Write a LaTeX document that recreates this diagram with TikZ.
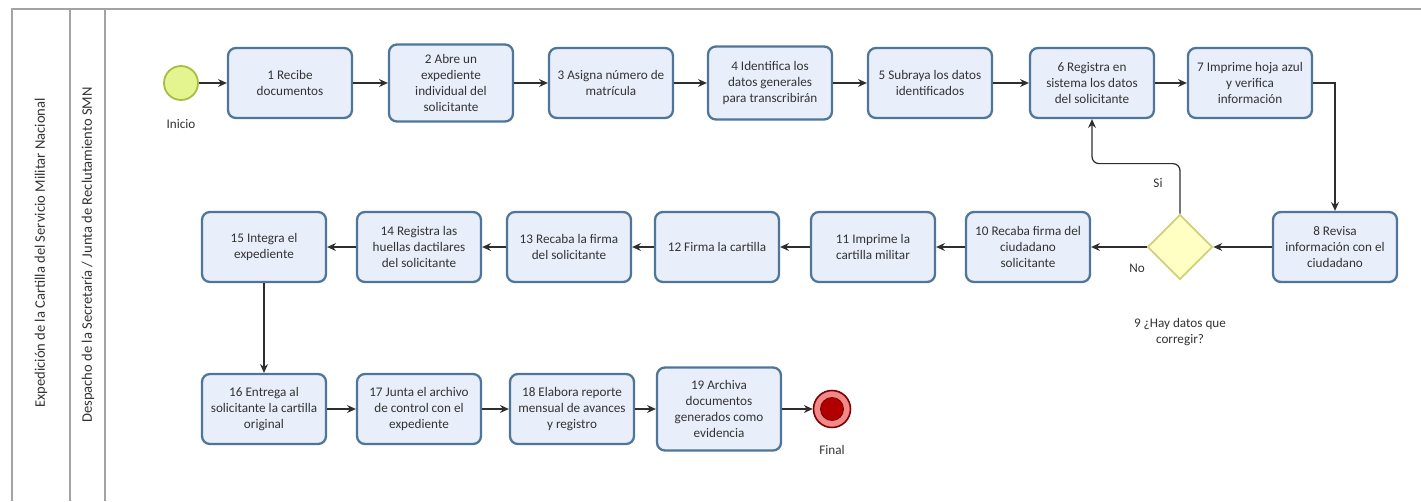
\documentclass[tikz,border=0pt]{standalone}
\usepackage{fontspec}
\setmainfont{Carlito}
\usetikzlibrary{shapes.geometric,arrows.meta}

\definecolor{taskfill}{HTML}{E9EEFB}
\definecolor{taskline}{HTML}{4F7698}
\definecolor{flowline}{HTML}{2E2E2E}
\definecolor{lanegray}{HTML}{A3A3A3}
\definecolor{startfill}{HTML}{E4F48E}
\definecolor{startline}{HTML}{A7BC40}
\definecolor{gatefill}{HTML}{FFFFC4}
\definecolor{gateline}{HTML}{D0D07E}
\definecolor{endring}{HTML}{F28888}
\definecolor{enddot}{HTML}{B00000}
\definecolor{endline}{HTML}{7A0000}
\definecolor{txtgray}{HTML}{333333}

\begin{document}
\begin{tikzpicture}[x=0.02cm, y=-0.02cm,
		font=\fontsize{7.5}{9}\selectfont, text=txtgray,
		task/.style={draw=taskline, fill=taskfill, line width=1.3pt, rounded corners=4.5pt,
			minimum width=2.48cm, minimum height=1.4cm, inner sep=1pt, align=center},
		flow/.style={draw=flowline, line width=0.7pt, -{Stealth[length=5pt,width=4.5pt]}},
		lane/.style={draw=lanegray, line width=1.1pt},
		lanetitle/.style={rotate=90, font=\fontsize{8.3}{10}\selectfont},
		startev/.style={circle, draw=startline, fill=startfill, line width=1pt, minimum size=0.68cm,
			label={[label distance=7pt]below:Inicio}},
		endev/.style={circle, draw=endline, fill=endring, line width=0.9pt, minimum size=0.74cm,
			label={[label distance=6pt]below:Final}},
		gate/.style={diamond, draw=gateline, fill=gatefill, line width=1pt, minimum width=1.3cm, minimum height=1.3cm}
		]
	\useasboundingbox (0,0) rectangle (1421,501);
	% pool and lane
	\draw[lane] (12,501) -- (12,9) -- (1421,9);
	\draw[lane] (70,9) -- (70,501);
	\draw[lane] (105,9) -- (105,501);
	\node[lanetitle] (pool) at (41,253) {Expedición de la Cartilla del Servicio Militar Nacional};
	\node[lanetitle] (lane) at (88,255) {Despacho de la Secretaría / Junta de Reclutamiento SMN};

	% first row
	\node[startev] (inicio) at (181,83) {};
	\node[task] (t1) at (290,83) {1 Recibe\\documentos};
	\node[task, minimum height=1.54cm] (t2) at (451,83) {2 Abre un\\expediente\\individual del\\solicitante};
	\node[task] (t3) at (611,83) {3 Asigna número de\\matrícula};
	\node[task, minimum height=1.46cm] (t4) at (770,83) {4 Identifica los\\datos generales\\para transcribirán};
	\node[task] (t5) at (930,83) {5 Subraya los datos\\identificados};
	\node[task] (t6) at (1092,83) {6 Registra en\\sistema los datos\\del solicitante};
	\node[task] (t7) at (1250,83) {7 Imprime hoja azul\\y verifica\\información};

	% second row
	\node[task] (t8) at (1335,247) {8 Revisa\\información con el\\ciudadano};
	\node[gate, label={[align=center, label distance=18pt]below:9 ¿Hay datos que\\corregir?}] (d9) at (1180,247) {};
	\node[task] (t10) at (1028,247) {10 Recaba firma del\\ciudadano\\solicitante};
	\node[task] (t11) at (873,247) {11 Imprime la\\cartilla militar};
	\node[task] (t12) at (717,247) {12 Firma la cartilla};
	\node[task] (t13) at (569,247) {13 Recaba la firma\\del solicitante};
	\node[task] (t14) at (419,247) {14 Registra las\\huellas dactilares\\del solicitante};
	\node[task] (t15) at (264,247) {15 Integra el\\expediente};

	% third row
	\node[task] (t16) at (264,409) {16 Entrega al\\solicitante la cartilla\\original};
	\node[task] (t17) at (419,409) {17 Junta el archivo\\de control con el\\expediente};
	\node[task] (t18) at (572,409) {18 Elabora reporte\\mensual de avances\\y registro};
	\node[task, minimum height=1.66cm] (t19) at (719,409) {19 Archiva\\documentos\\generados como\\evidencia};
	\node[endev] (final) at (832,409) {};
	\fill[enddot, draw=endline, line width=0.5pt] (final.center) circle [radius=0.23cm];

	% flows
	\draw[flow] (inicio) -- (t1);
	\draw[flow] (t1) -- (t2);
	\draw[flow] (t2) -- (t3);
	\draw[flow] (t3) -- (t4);
	\draw[flow] (t4) -- (t5);
	\draw[flow] (t5) -- (t6);
	\draw[flow] (t6) -- (t7);
	\draw[flow] (t7.east) -| (t8.north);
	\draw[flow] (t8) -- (d9);
	\draw[flow, rounded corners=4pt] (d9.north) -- ++(0,-50) -| (t6.south);
	\node (si) at (1158,183) {Si};
	\draw[flow] (d9) -- (t10);
	\node (no) at (1137,268) {No};
	\draw[flow] (t10) -- (t11);
	\draw[flow] (t11) -- (t12);
	\draw[flow] (t12) -- (t13);
	\draw[flow] (t13) -- (t14);
	\draw[flow] (t14) -- (t15);
	\draw[flow] (t15) -- (t16);
	\draw[flow] (t16) -- (t17);
	\draw[flow] (t17) -- (t18);
	\draw[flow] (t18) -- (t19);
	\draw[flow] (t19) -- (final);
\end{tikzpicture}
\end{document}
